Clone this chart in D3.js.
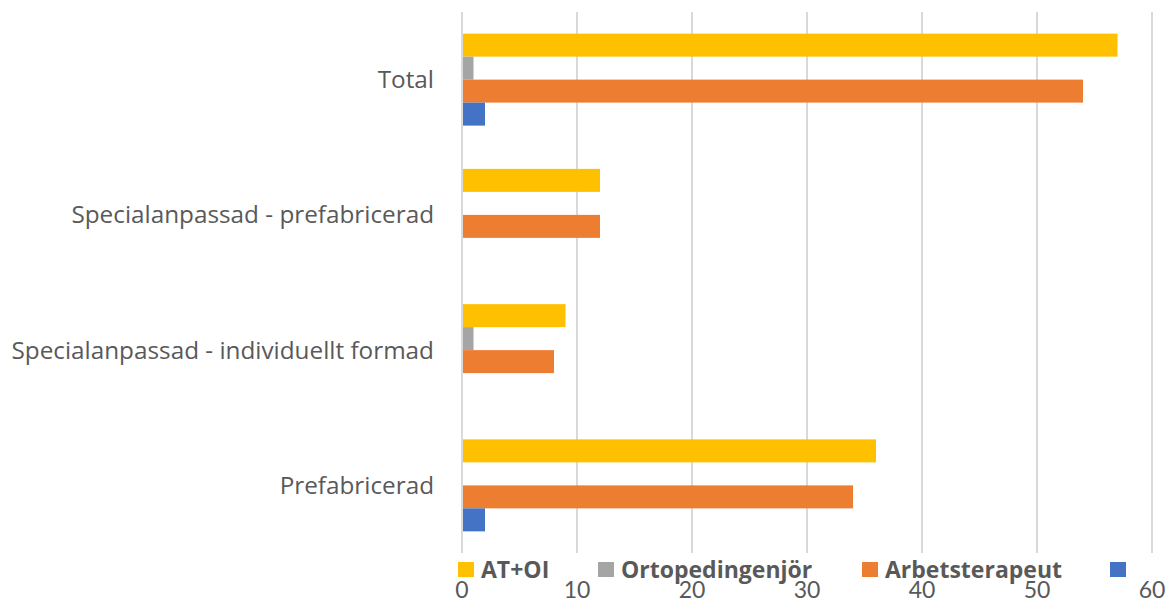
<!DOCTYPE html>
<html>
<head>
<meta charset="utf-8">
<script src="https://d3js.org/d3.v7.min.js"></script>
<style>
  body { margin: 0; background: #fff; }
  text { font-family: Lato, "Open Sans", sans-serif; fill: #595959; }
  .cat, .leg { font-family: "Open Sans", sans-serif; }
</style>
</head>
<body>
<script>
// categories, top to bottom
var categories = ["Total", "Specialanpassad - prefabricerad", "Specialanpassad - individuellt formad", "Prefabricerad"];
// series, in draw order inside each group
var seriesNames = ["AT+OI", "Ortopedingenjör", "Arbetsterapeut", ""];
var seriesColors = ["#FFC000", "#A5A5A5", "#ED7D31", "#4472C4"];
var atoi = [57, 12, 9, 36];
var ortopedingenjor = [1, 0, 1, 0];
var arbetsterapeut = [54, 12, 8, 34];
var blue = [2, 0, 0, 2];
var ticks = [0, 10, 20, 30, 40, 50, 60];

var values = [atoi, ortopedingenjor, arbetsterapeut, blue];

var width = 1170, height = 603;
var margin = {top: 12, right: 18, bottom: 50, left: 462};

var svg = d3.select("body").append("svg")
    .attr("width", width)
    .attr("height", height);

var x = d3.scaleLinear().domain([0, 60]).range([margin.left, width - margin.right]);
var y = d3.scaleBand().domain(categories).range([margin.top, height - margin.bottom]).paddingInner(0.32).paddingOuter(0.16);
var ySub = d3.scaleBand().domain(d3.range(seriesNames.length)).range([0, y.bandwidth()]);

// gridlines
svg.append("g").selectAll("line")
    .data(ticks)
    .enter().append("line")
    .attr("x1", function(d) { return x(d); })
    .attr("x2", function(d) { return x(d); })
    .attr("y1", margin.top)
    .attr("y2", height - margin.bottom)
    .attr("stroke", "#D9D9D9")
    .attr("stroke-width", 2);

// bars
categories.forEach(function(cat, ci) {
  var g = svg.append("g").attr("transform", "translate(0," + y(cat) + ")");
  values.forEach(function(arr, si) {
    if (arr[ci] <= 0) return;
    g.append("rect")
      .attr("x", x(0) + 1)
      .attr("y", ySub(si))
      .attr("width", x(arr[ci]) - x(0) - 1)
      .attr("height", ySub.bandwidth())
      .attr("fill", seriesColors[si]);
  });
});

// category labels
svg.append("g").selectAll("text")
    .data(categories)
    .enter().append("text")
    .attr("class", "cat")
    .attr("x", 434)
    .attr("y", function(d) { return y(d) + y.bandwidth() / 2; })
    .attr("dy", "0.35em")
    .attr("text-anchor", "end")
    .style("font-size", "24.3px")
    .text(function(d) { return d; });

// tick labels
svg.append("g").selectAll("text")
    .data(ticks)
    .enter().append("text")
    .attr("x", function(d) { return x(d); })
    .attr("y", 598)
    .attr("text-anchor", "middle")
    .style("font-size", "23px")
    .text(function(d) { return d; });

// legend
var legendX = [458, 598, 862, 1110];
var legend = svg.append("g").selectAll("g")
    .data(seriesNames)
    .enter().append("g")
    .attr("transform", function(d, i) { return "translate(" + legendX[i] + ",562)"; });
legend.append("rect")
    .attr("width", 16).attr("height", 15)
    .attr("fill", function(d, i) { return seriesColors[i]; });
legend.append("text")
    .attr("class", "leg")
    .attr("x", 23)
    .attr("y", 16)
    .style("font-size", "23px")
    .style("font-weight", "bold")
    .text(function(d) { return d; });
</script>
</body>
</html>
